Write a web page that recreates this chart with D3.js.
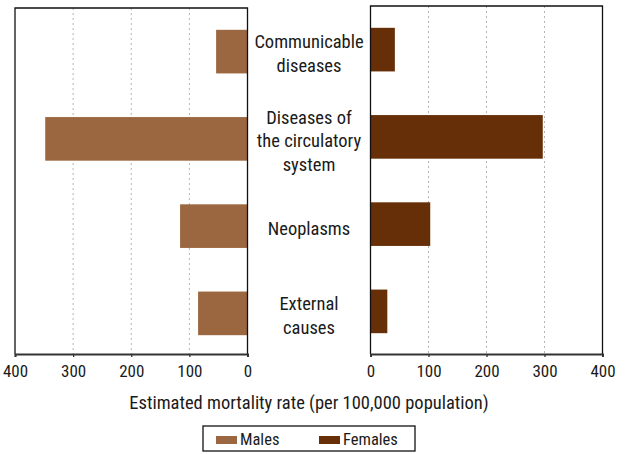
<!DOCTYPE html>
<html>
<head>
<meta charset="utf-8">
<script src="https://cdn.jsdelivr.net/npm/d3@7"></script>
<style>
  body { margin: 0; background: #fff; }
  text { font-family: "Roboto Condensed", "Liberation Sans Narrow", "Liberation Sans", sans-serif; fill: #1a1a1a; }
</style>
</head>
<body>
<div id="chart-area"></div>
<script>
// data
var categories = [
  ["Communicable", "diseases"],
  ["Diseases of", "the circulatory", "system"],
  ["Neoplasms"],
  ["External", "causes"]
];
var males = [54, 348, 116, 85];
var females = [42, 297, 103, 29];
var ticks = [0, 100, 200, 300, 400];
var seriesNames = ["Males", "Females"];
var colors = ["#9b6740", "#662f07"];

var W = 626, H = 454;
var svg = d3.select("#chart-area").append("svg")
    .attr("width", W)
    .attr("height", H);

var idx = categories.map(function(d, i) { return i; });

// left panel (males, reversed)
var xL = d3.scaleLinear().domain([400, 0]).range([15, 247.5]);
var yL = d3.scaleBand().domain(idx).range([8, 357]).paddingInner(0.5).paddingOuter(0.25);
// right panel (females)
var xR = d3.scaleLinear().domain([0, 400]).range([370.5, 602.5]);
var yR = d3.scaleBand().domain(idx).range([6, 355]).paddingInner(0.5).paddingOuter(0.25);

var bottom = 354;

function panel(x, y, top, values, color) {
    var g = svg.append("g");
    // grid
    g.selectAll(".grid")
        .data([100, 200, 300])
        .enter().append("line")
        .attr("x1", function(d) { return x(d); })
        .attr("x2", function(d) { return x(d); })
        .attr("y1", top)
        .attr("y2", bottom)
        .attr("stroke", "#b5b5b5")
        .attr("stroke-width", 1)
        .attr("stroke-dasharray", "2,3");

    // bars
    g.selectAll("rect.bar")
        .data(values)
        .enter().append("rect")
        .attr("class", "bar")
        .attr("x", function(d) { return Math.min(x(0), x(d)); })
        .attr("width", function(d) { return Math.abs(x(d) - x(0)); })
        .attr("y", function(d, i) { return y(i); })
        .attr("height", y.bandwidth())
        .attr("fill", color);

    // frame
    var x0 = Math.min(x(0), x(400)), x1 = Math.max(x(0), x(400));
    g.append("path")
        .attr("d", "M" + x0 + "," + bottom + "V" + top + "H" + x1 + "V" + bottom)
        .attr("fill", "none")
        .attr("stroke", "#111")
        .attr("stroke-width", 1.3);

    // axis
    var axis = d3.axisBottom(x).tickValues(ticks).tickSize(3).tickPadding(8);
    var ag = g.append("g")
        .attr("transform", "translate(0," + bottom + ")")
        .call(axis);
    ag.select(".domain").attr("stroke", "#333").attr("stroke-width", 2);
    ag.selectAll(".tick line").attr("stroke", "#333").attr("stroke-width", 1.3);
    ag.selectAll(".tick text")
        .attr("font-size", "17px")
        .attr("fill", "#1a1a1a")
        .style("font-family", "'Roboto Condensed', 'Liberation Sans', sans-serif");
}

panel(xL, yL, 8, males, colors[0]);
panel(xR, yR, 6, females, colors[1]);

// category labels
var cx = (xL(0) + xR(0)) / 2;
var lineH = 23.5;
categories.forEach(function(lines, i) {
    var mid = yL(i) + yL.bandwidth() / 2;
    var t = svg.append("text")
        .attr("text-anchor", "middle")
        .attr("font-size", "18.5px");
    lines.forEach(function(s, j) {
        t.append("tspan")
            .attr("x", cx)
            .attr("y", mid + (j - (lines.length - 1) / 2) * lineH + 8.5)
            .text(s);
    });
});

// axis title
svg.append("text")
    .attr("x", cx)
    .attr("y", 409)
    .attr("text-anchor", "middle")
    .attr("font-size", "18.5px")
    .text("Estimated mortality rate (per 100,000 population)");

// legend
var lg = svg.append("g");
lg.append("rect")
    .attr("x", 203).attr("y", 426)
    .attr("width", 212).attr("height", 25)
    .attr("fill", "#fff")
    .attr("stroke", "#111")
    .attr("stroke-width", 1.3);
var lx = [216, 319];
seriesNames.forEach(function(name, i) {
    lg.append("rect")
        .attr("x", lx[i]).attr("y", 436)
        .attr("width", 21).attr("height", 8)
        .attr("fill", colors[i]);
    lg.append("text")
        .attr("x", lx[i] + 24)
        .attr("y", 445)
        .attr("font-size", "16.5px")
        .text(name);
});
</script>
</body>
</html>
